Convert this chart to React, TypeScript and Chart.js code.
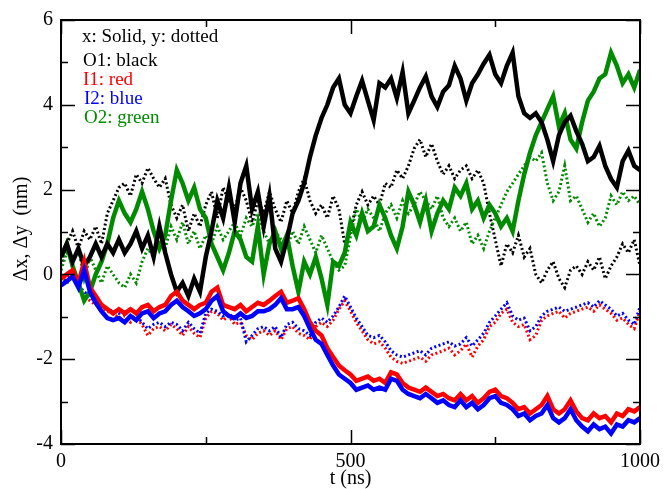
import React, { useEffect, useRef } from "react";
import { Chart, registerables } from "chart.js";
Chart.register(...registerables);

// time stamps (ns)
const T = [
  0, 10, 20, 30, 40, 50, 60, 70, 80, 90,
  100, 110, 120, 130, 140, 150, 160, 170, 180, 190,
  200, 210, 220, 230, 240, 250, 260, 270, 280, 290,
  300, 310, 320, 330, 340, 350, 360, 370, 380, 390,
  400, 410, 420, 430, 440, 450, 460, 470, 480, 490,
  500, 510, 520, 530, 540, 550, 560, 570, 580, 590,
  600, 610, 620, 630, 640, 650, 660, 670, 680, 690,
  700, 710, 720, 730, 740, 750, 760, 770, 780, 790,
  800, 810, 820, 830, 840, 850, 860, 870, 880, 890,
  900, 910, 920, 930, 940, 950, 960, 970, 980, 990,
  1000,
];

// O1 (black)
const O1x = [
  0.41, 0.72, 0.3, 0.61, 0.2, 0.41, 0.72, 0.41, 0.72, 0.51,
  0.82, 0.51, 0.72, 1.02, 0.61, 0.92, 0.41, 1.13, 0.51, 0.0,
  -0.41, -0.2, -0.51, -0.1, -0.41, 0.41, 1.02, 1.74, 1.33, 2.05,
  1.23, 2.15, 2.56, 1.54, 1.95, 1.13, 1.85, 0.61, 0.3, 0.82,
  1.44, 1.74, 2.15, 2.77, 3.28, 3.69, 4.0, 4.41, 4.62, 4.0,
  3.8, 4.2, 4.57, 4.1, 3.64, 4.51, 4.41, 4.62, 4.16, 4.77,
  3.8, 4.1, 4.41, 4.67, 4.2, 3.95, 4.31, 4.46, 4.92, 4.62,
  4.1, 4.51, 4.72, 4.97, 5.18, 4.72, 4.51, 4.92, 5.23, 4.2,
  3.8, 3.69, 3.8, 3.59, 3.18, 2.67, 3.28, 3.59, 3.74, 3.38,
  3.08, 2.67, 2.77, 3.03, 2.56, 2.25, 2.05, 2.67, 2.92, 2.56,
  2.46,
];
const O1y = [
  0.2, 0.72, 1.02, 0.61, 1.02, 0.82, 1.13, 0.72, 1.44, 1.74,
  2.05, 2.15, 1.85, 2.36, 2.15, 2.51, 2.26, 2.05, 2.26, 1.64,
  1.33, 1.64, 1.02, 1.44, 1.13, 1.64, 1.95, 1.33, 2.05, 1.74,
  1.54, 2.05, 1.74, 1.23, 1.74, 1.44, 1.95, 1.54, 1.23, 1.74,
  1.44, 1.95, 2.26, 1.74, 1.44, 1.64, 1.33, 1.85, 1.54, 0.72,
  1.02, 1.64, 1.95, 1.64, 1.85, 1.64, 2.15, 2.05, 2.46, 2.26,
  2.56, 2.97, 3.18, 2.77, 3.08, 2.67, 2.36, 2.56, 2.26, 2.46,
  2.56, 2.26, 2.46, 2.15, 1.44, 0.82, 0.2, 0.72, 0.51, 0.92,
  0.41, 0.61, 0.0, -0.2, 0.1, 0.3, -0.1, -0.31, 0.1, 0.2,
  0.0, 0.3, 0.1, 0.41, -0.1, 0.2, 0.41, 0.72, 0.51, 0.82,
  0.2,
];

// I1 (red)
const I1x = [
  -0.1, 0.0, 0.1, -0.21, 0.3, -0.31, -0.51, -0.72, -0.82, -0.92,
  -0.82, -0.92, -0.82, -0.92, -0.77, -0.72, -0.87, -0.77, -0.72, -0.51,
  -0.41, -0.62, -0.72, -0.82, -0.72, -0.67, -0.41, -0.31, -0.72, -0.77,
  -0.82, -0.72, -0.87, -0.77, -0.67, -0.72, -0.62, -0.51, -0.41, -0.67,
  -0.62, -0.56, -0.82, -1.13, -1.33, -1.44, -1.74, -1.95, -2.15, -2.26,
  -2.36, -2.51, -2.46, -2.41, -2.51, -2.46, -2.56, -2.31, -2.36, -2.56,
  -2.67, -2.72, -2.77, -2.67, -2.77, -2.87, -2.82, -2.92, -2.97, -2.82,
  -2.97, -2.87, -3.03, -2.92, -2.77, -2.72, -2.87, -2.92, -3.03, -3.18,
  -3.13, -3.28, -3.18, -3.08, -2.87, -3.18, -3.28, -3.18, -2.97, -3.23,
  -3.39, -3.44, -3.28, -3.39, -3.34, -3.49, -3.28, -3.34, -3.18, -3.23,
  -3.13,
];
const I1y = [
  -0.21, -0.1, 0.0, -0.31, -0.51, -0.62, -0.72, -0.77, -0.87, -0.92,
  -1.03, -0.98, -1.13, -1.03, -1.18, -1.44, -1.28, -1.23, -1.33, -1.18,
  -1.28, -1.44, -1.23, -1.39, -1.49, -1.03, -0.87, -0.92, -1.08, -0.98,
  -1.18, -1.13, -1.44, -1.54, -1.39, -1.33, -1.44, -1.33, -1.54, -1.28,
  -1.23, -1.39, -1.44, -1.54, -1.23, -1.13, -1.23, -1.08, -0.82, -0.62,
  -0.87, -1.13, -1.33, -1.54, -1.64, -1.59, -1.74, -1.95, -2.05, -2.1,
  -2.05, -2.0, -1.95, -2.05, -1.9, -1.85, -1.8, -1.74, -1.9, -1.8,
  -1.64, -1.95, -1.69, -1.54, -1.23, -1.13, -0.92, -0.82, -1.13, -1.23,
  -1.18, -1.54, -1.44, -1.08, -0.98, -0.92, -0.87, -1.03, -0.92, -0.87,
  -0.82, -0.77, -0.87, -0.72, -0.82, -0.92, -1.08, -1.03, -1.18, -1.28,
  -0.87,
];

// I2 (blue)
const I2x = [
  -0.26, -0.16, -0.05, -0.31, 0.1, -0.41, -0.67, -0.87, -1.03, -1.08,
  -1.03, -1.13, -0.98, -1.08, -0.92, -0.87, -1.03, -0.92, -0.87, -0.72,
  -0.62, -0.77, -0.87, -0.98, -0.92, -0.82, -0.62, -0.51, -0.87, -0.98,
  -1.03, -0.92, -1.03, -0.98, -0.87, -0.87, -0.82, -0.72, -0.56, -0.82,
  -0.82, -0.77, -0.98, -1.28, -1.54, -1.64, -1.9, -2.15, -2.36, -2.46,
  -2.56, -2.72, -2.67, -2.62, -2.72, -2.67, -2.72, -2.46, -2.51, -2.72,
  -2.82, -2.87, -2.92, -2.82, -2.92, -3.03, -2.97, -3.08, -3.13, -2.97,
  -3.13, -3.03, -3.18, -3.08, -2.92, -2.87, -3.03, -3.08, -3.18, -3.34,
  -3.28, -3.44, -3.34, -3.28, -3.08, -3.39, -3.49, -3.39, -3.18, -3.44,
  -3.59, -3.7, -3.54, -3.65, -3.59, -3.75, -3.54, -3.59, -3.44, -3.49,
  -3.39,
];
const I2y = [
  -0.05, -0.21, 0.05, -0.26, -0.41, -0.51, -0.67, -0.72, -0.82, -0.87,
  -0.92, -0.87, -1.03, -0.98, -1.13, -1.28, -1.18, -1.13, -1.23, -1.13,
  -1.18, -1.33, -1.13, -1.28, -1.39, -0.92, -0.82, -0.87, -0.98, -0.92,
  -1.08, -1.03, -1.59, -1.44, -1.28, -1.23, -1.33, -1.23, -1.49, -1.18,
  -1.13, -1.28, -1.33, -1.44, -1.13, -1.03, -1.13, -0.98, -0.77, -0.51,
  -0.77, -1.03, -1.23, -1.44, -1.49, -1.44, -1.59, -1.8, -1.9, -1.95,
  -1.9, -1.85, -1.8, -1.9, -1.74, -1.69, -1.64, -1.59, -1.69, -1.64,
  -1.49, -1.69, -1.54, -1.39, -1.13, -0.98, -0.82, -0.67, -0.98, -1.08,
  -1.03, -1.33, -1.23, -0.98, -0.87, -0.82, -0.77, -0.87, -0.82, -0.77,
  -0.72, -0.67, -0.77, -0.62, -0.72, -0.82, -0.98, -0.92, -1.08, -1.18,
  -0.77,
];

// O2 (green)
const O2x = [
  0.41, 0.72, 0.2, -0.2, -0.62, -0.41, 0.0, 0.3, 0.72, 1.33,
  1.74, 1.44, 1.23, 1.54, 1.95, 1.54, 1.02, 0.61, 0.92, 1.74,
  2.46, 2.15, 1.74, 2.05, 1.54, 1.33, 0.72, 0.41, 0.1, 0.51,
  1.02, 0.82, 0.41, 0.3, 1.13, 0.0, 0.72, 1.02, 0.61, 0.92,
  0.2, -0.41, 0.3, 0.0, 0.41, -0.1, -0.72, 0.3, 0.2, 0.51,
  1.23, 0.92, 1.44, 1.02, 1.13, 1.64, 1.33, 0.92, 0.61, 1.13,
  1.95, 1.64, 1.23, 1.74, 1.02, 1.44, 1.74, 1.54, 2.05, 1.85,
  2.15, 1.54, 1.74, 1.33, 1.64, 1.44, 1.13, 1.33, 1.02, 1.74,
  2.36, 2.87, 3.28, 3.59, 3.9, 4.2, 3.49, 3.8, 3.18, 2.97,
  3.59, 4.1, 4.31, 4.62, 4.72, 5.23, 4.92, 4.51, 4.72, 4.41,
  4.82,
];
const O2y = [
  0.1, 0.51, 0.3, 0.61, -0.1, 0.41, 0.1, -0.2, 0.2, 0.0,
  -0.2, -0.31, 0.0, -0.2, 0.3, 0.61, 0.41, 0.82, 0.61, 1.13,
  0.82, 1.23, 0.72, 1.02, 0.61, 0.92, 0.72, 1.13, 0.82, 1.02,
  1.23, 0.92, 1.33, 1.13, 1.44, 1.02, 0.72, 1.02, 0.82, 0.61,
  1.02, 0.72, 1.13, 0.82, 0.51, 0.92, 0.61, 0.3, 0.1, 0.2,
  0.9, 1.54, 1.23, 1.54, 1.33, 1.02, 1.44, 1.64, 1.33, 1.74,
  1.44, 1.64, 1.95, 1.74, 1.54, 1.85, 1.33, 1.13, 1.33, 1.02,
  1.23, 0.72, 0.92, 0.61, 1.02, 1.33, 1.64, 1.95, 2.15, 2.36,
  2.56, 2.77, 2.67, 2.87, 2.15, 1.74, 1.95, 2.56, 1.74, 1.85,
  1.54, 1.23, 1.44, 1.13, 1.33, 1.85, 1.64, 1.95, 1.74, 1.85,
  1.64,
];

// axis ticks
const X_MAJOR = [0, 500, 1000];
const X_MINOR = [250, 750];
const Y_MAJOR = [-4, -2, 0, 2, 4, 6];
const Y_MINOR = [-3, -1, 1, 3, 5];

const NOTES = [
  { text: "x: Solid, y: dotted", color: "#000000" },
  { text: "O1: black", color: "#000000" },
  { text: "I1: red", color: "#ff0000" },
  { text: "I2: blue", color: "#0000ff" },
  { text: "O2: green", color: "#008b00" },
];

const FONT = '"Liberation Serif", "Times New Roman", serif';

const pts = (arr: number[]) => T.map((t, i) => ({ x: t, y: arr[i] }));

const framePlugin = {
  id: "xmgraceFrame",
  afterDraw(chart: any) {
    const { ctx, chartArea: a, scales } = chart;
    const xs = scales.x;
    const ys = scales.y;
    ctx.save();
    ctx.strokeStyle = "#000";
    ctx.lineWidth = 2;
    ctx.strokeRect(a.left, a.top, a.right - a.left, a.bottom - a.top);
    ctx.lineWidth = 1.5;
    ctx.beginPath();
    const xt = (vals: number[], len: number) => {
      for (const v of vals) {
        const p = Math.round(xs.getPixelForValue(v)) + 0.5;
        ctx.moveTo(p, a.bottom);
        ctx.lineTo(p, a.bottom - len);
        ctx.moveTo(p, a.top);
        ctx.lineTo(p, a.top + len);
      }
    };
    const yt = (vals: number[], len: number) => {
      for (const v of vals) {
        const p = Math.round(ys.getPixelForValue(v)) + 0.5;
        ctx.moveTo(a.left, p);
        ctx.lineTo(a.left + len, p);
        ctx.moveTo(a.right, p);
        ctx.lineTo(a.right - len, p);
      }
    };
    xt(X_MAJOR, 14);
    xt(X_MINOR, 7);
    yt(Y_MAJOR, 14);
    yt(Y_MINOR, 7);
    ctx.stroke();

    // annotation text block
    ctx.font = `19px ${FONT}`;
    ctx.textAlign = "left";
    ctx.textBaseline = "alphabetic";
    const baselines = [42, 66, 85, 104, 123];
    const lefts = [82, 83, 83, 84, 84];
    NOTES.forEach((n, i) => {
      ctx.fillStyle = n.color;
      ctx.fillText(n.text, lefts[i], baselines[i]);
    });

    // axis titles
    ctx.fillStyle = "#000";
    ctx.font = `20px ${FONT}`;
    ctx.textAlign = "center";
    ctx.fillText("t (ns)", (a.left + a.right) / 2, 484);
    ctx.save();
    ctx.translate(27, 229);
    ctx.rotate(-Math.PI / 2);
    ctx.fillText("\u0394x, \u0394y  (nm)", 0, 0);
    ctx.restore();
    ctx.restore();
  },
};

export default function App() {
  const ref = useRef<HTMLCanvasElement | null>(null);
  useEffect(() => {
    if (!ref.current) return;
    const solid = (label: string, data: number[], color: string) => ({
      label,
      data: pts(data),
      borderColor: color,
      backgroundColor: color,
      borderWidth: 4.5,
      pointRadius: 0,
      tension: 0,
      fill: false,
    });
    const dotted = (label: string, data: number[], color: string) => ({
      label,
      data: pts(data),
      borderColor: color,
      backgroundColor: color,
      borderWidth: 3,
      borderDash: [2, 2.5],
      pointRadius: 0,
      tension: 0,
      fill: false,
    });
    const chart = new Chart(ref.current, {
      type: "line",
      data: {
        datasets: [
          solid("I2 x", I2x, "#0000ff"),
          solid("I1 x", I1x, "#ff0000"),
          solid("O1 x", O1x, "#000000"),
          solid("O2 x", O2x, "#008b00"),
          dotted("I2 y", I2y, "#0000ff"),
          dotted("I1 y", I1y, "#ff0000"),
          dotted("O2 y", O2y, "#008b00"),
          dotted("O1 y", O1y, "#000000"),
        ],
      },
      options: {
        responsive: false,
        animation: false,
        devicePixelRatio: 1,
        layout: { autoPadding: false, padding: { top: 19, right: 21, left: 0, bottom: 0 } },
        plugins: { legend: { display: false }, tooltip: { enabled: false } },
        scales: {
          x: {
            type: "linear",
            min: 0,
            max: 1000,
            afterFit: (s: any) => { s.height = 45; },
            grid: { display: false, drawTicks: false },
            border: { display: false },
            ticks: {
              stepSize: 500,
              autoSkip: false,
              maxRotation: 0,
              padding: 6,
              color: "#000",
              font: { family: FONT, size: 20 },
              callback: (v: any) => String(v),
            },
          },
          y: {
            type: "linear",
            min: -4,
            max: 6,
            afterFit: (s: any) => { s.width = 61; },
            grid: { display: false, drawTicks: false },
            border: { display: false },
            ticks: {
              stepSize: 2,
              padding: 8,
              color: "#000",
              font: { family: FONT, size: 20 },
              callback: (v: any) => String(v),
            },
          },
        },
      },
      plugins: [framePlugin],
    });
    return () => chart.destroy();
  }, []);
  return (
    <div style={{ position: "absolute", left: 0, top: 0, width: 666, height: 489, background: "#fff" }}>
      <canvas ref={ref} width={666} height={489} />
    </div>
  );
}
